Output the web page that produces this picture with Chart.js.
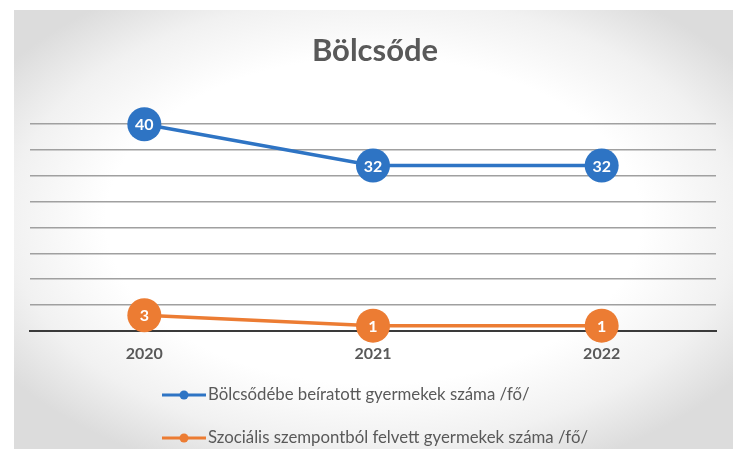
<!DOCTYPE html>
<html>
<head>
<meta charset="utf-8">
<script src="https://cdn.jsdelivr.net/npm/chart.js@4/dist/chart.umd.min.js"></script>
<style>
html,body{margin:0;padding:0;width:733px;height:449px;overflow:hidden;background:#ffffff;}
#bg{position:absolute;left:14px;top:10px;width:719px;height:439px;
 background:radial-gradient(ellipse 62% 62% at 50% 48%, #ffffff 60%, #f1f1f1 82%, #dcdcdc 100%);}
#wrap{position:absolute;left:0;top:0;width:733px;height:449px;}
</style>
</head>
<body>
<div id="bg"></div>
<div id="wrap"><canvas id="c" width="733" height="449"></canvas></div>
<script>
const categories = ["2020", "2021", "2022"];
const enrolled = [40, 32, 32];
const socialAdmitted = [3, 1, 1];
const seriesLabels = [
  "Bölcsődébe beíratott gyermekek száma /fő/",
  "Szociális szempontból felvett gyermekek száma /fő/"
];
const titleText = "Bölcsőde";
const blue = "#2E74C4";
const orange = "#EC7C33";
const FONT = "Lato, 'Open Sans', sans-serif";

const valueLabels = {
  id: 'valueLabels',
  afterDatasetsDraw(chart) {
    const ctx = chart.ctx;
    ctx.save();
    chart.data.datasets.forEach((ds, i) => {
      const meta = chart.getDatasetMeta(i);
      meta.data.forEach((pt, j) => {
        ctx.fillStyle = '#ffffff';
        ctx.font = "bold 16px " + FONT;
        ctx.textAlign = 'center';
        ctx.textBaseline = 'middle';
        ctx.fillText(String(ds.data[j]), pt.x, pt.y + 1);
      });
    });
    ctx.restore();
  }
};

const customLegend = {
  id: 'customLegend',
  afterDraw(chart) {
    const ctx = chart.ctx;
    ctx.save();
    const rows = [395, 438];
    chart.data.datasets.forEach((ds, i) => {
      const y = rows[i];
      ctx.strokeStyle = ds.borderColor;
      ctx.lineWidth = 3;
      ctx.beginPath();
      ctx.moveTo(162, y);
      ctx.lineTo(206, y);
      ctx.stroke();
      ctx.fillStyle = ds.borderColor;
      ctx.beginPath();
      ctx.arc(184, y, 4.5, 0, Math.PI * 2);
      ctx.fill();
      ctx.fillStyle = '#595959';
      ctx.font = "16.8px " + FONT;
      ctx.textAlign = 'left';
      ctx.textBaseline = 'middle';
      ctx.fillText(ds.label, 208, y);
    });
    ctx.restore();
  }
};

new Chart(document.getElementById('c'), {
  type: 'line',
  data: {
    labels: categories,
    datasets: [
      {
        label: seriesLabels[0],
        data: enrolled,
        borderColor: blue,
        backgroundColor: blue,
        borderWidth: 3.5,
        pointRadius: 17,
        pointHoverRadius: 17,
        pointBackgroundColor: blue,
        pointBorderColor: blue,
        pointBorderWidth: 0,
        tension: 0,
        clip: false
      },
      {
        label: seriesLabels[1],
        data: socialAdmitted,
        borderColor: orange,
        backgroundColor: orange,
        borderWidth: 3.5,
        pointRadius: 17,
        pointHoverRadius: 17,
        pointBackgroundColor: orange,
        pointBorderColor: orange,
        pointBorderWidth: 0,
        tension: 0,
        clip: false
      }
    ]
  },
  options: {
    responsive: false,
    animation: false,
    layout: { padding: { left: 30, right: 13, top: 0, bottom: 73 } },
    plugins: {
      legend: { display: false },
      tooltip: { enabled: false },
      title: {
        display: true,
        text: titleText,
        color: '#595959',
        font: { family: FONT, size: 31, weight: 'bold' },
        padding: { top: 32, bottom: 55 }
      }
    },
    scales: {
      x: {
        offset: true,
        grid: { display: false, drawTicks: false },
        border: { display: true, color: '#3a3a3a', width: 2 },
        ticks: { color: '#595959', font: { family: FONT, size: 16, weight: 'bold' }, padding: 13 }
      },
      y: {
        min: 0,
        max: 40,
        ticks: { display: false, stepSize: 5 },
        border: { display: false },
        grid: {
          drawTicks: false,
          color: (c) => c.tick && c.tick.value === 0 ? '#3a3a3a' : '#a0a0a0',
          lineWidth: (c) => c.tick && c.tick.value === 0 ? 2 : 1.5
        }
      }
    }
  },
  plugins: [valueLabels, customLegend]
});
</script>
</body>
</html>
